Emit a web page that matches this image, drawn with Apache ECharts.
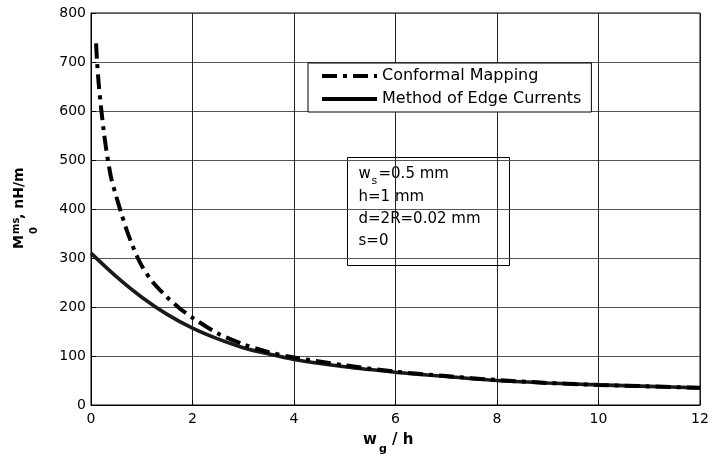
<!DOCTYPE html>
<html>
<head>
<meta charset="utf-8">
<script src="https://cdn.jsdelivr.net/npm/echarts@6/dist/echarts.min.js"></script>
<style>
html,body{margin:0;padding:0;background:#fff;}
#chart{width:712px;height:459px;}
</style>
</head>
<body>
<div id="chart"></div>
<script>
// ---- data ----
var xTicks = [0, 2, 4, 6, 8, 10, 12];
var yTicks = [0, 100, 200, 300, 400, 500, 600, 700, 800];

var seriesNames = ['Conformal Mapping', 'Method of Edge Currents'];

var xCM = [0.1, 0.12, 0.15, 0.2, 0.25, 0.3, 0.35, 0.4, 0.5, 0.6, 0.7, 0.8, 0.9, 1.0, 1.2, 1.5, 1.75, 2.0, 2.5, 3.0, 3.5, 4.0, 5, 6, 7, 8, 9, 10, 11, 12];
var yCM = [738, 700, 658, 605, 560, 522, 490, 462, 425, 390, 358, 330, 305, 284, 253, 220, 197, 178, 146, 124, 108, 97, 81, 68, 59, 51, 45, 41, 38, 35];

var xMEC = [0, 0.5, 1, 1.5, 2, 2.5, 3, 3.5, 4, 5, 6, 7, 8, 9, 10, 11, 12];
var yMEC = [310, 262, 220, 185, 157, 135, 117, 104, 93, 78, 67, 58, 50, 45, 41, 38, 35];

var noteLines = ['=0.5 mm', 'h=1 mm', 'd=2R=0.02 mm', 's=0'];

function pairs(xs, ys) {
  return xs.map(function (x, i) { return [x, ys[i]]; });
}

var FONT = 'DejaVu Sans';
var chart = echarts.init(document.getElementById('chart'), null, {renderer: 'canvas'});

var option = {
  animation: false,
  backgroundColor: '#fff',
  color: ['#000', '#1a1a1a'],
  grid: {
    left: 91, right: 12, top: 13, bottom: 54,
    show: true, borderColor: '#000', borderWidth: 1, backgroundColor: 'transparent'
  },
  xAxis: {
    type: 'value',
    min: xTicks[0], max: xTicks[xTicks.length - 1], interval: 2,
    axisLine: {show: true, onZero: false, lineStyle: {color: '#000', width: 1}},
    axisTick: {show: true, inside: true, length: 5, lineStyle: {color: '#000'}},
    axisLabel: {color: '#000', fontFamily: FONT, fontSize: 14, margin: 7},
    splitLine: {show: true, lineStyle: {color: '#222', width: 1}}
  },
  yAxis: {
    type: 'value',
    min: yTicks[0], max: yTicks[yTicks.length - 1], interval: 100,
    axisLine: {show: true, onZero: false, lineStyle: {color: '#000', width: 1}},
    axisTick: {show: true, inside: true, length: 5, lineStyle: {color: '#000'}},
    axisLabel: {color: '#000', fontFamily: FONT, fontSize: 14, margin: 5},
    splitLine: {show: true, lineStyle: {color: '#555', width: 1.2}}
  },
  legend: {
    orient: 'vertical',
    left: 308, top: 63,
    backgroundColor: '#fff',
    borderColor: '#000', borderWidth: 1,
    padding: [5, 10, 5, 12],
    itemGap: 7,
    itemWidth: 55, itemHeight: 14,
    itemStyle: {opacity: 0},
    lineStyle: {width: 4, color: '#000'},
    textStyle: {color: '#000', fontFamily: FONT, fontSize: 16},
    data: seriesNames
  },
  series: [
    {
      name: seriesNames[0],
      type: 'line',
      data: pairs(xCM, yCM),
      smooth: 0.3,
      symbol: 'none',
      z: 3,
      itemStyle: {color: '#000'},
      lineStyle: {color: '#000', width: 4, type: [15, 6, 4, 6], cap: 'butt'}
    },
    {
      name: seriesNames[1],
      type: 'line',
      data: pairs(xMEC, yMEC),
      smooth: 0.3,
      symbol: 'none',
      z: 2,
      itemStyle: {color: '#1a1a1a'},
      lineStyle: {color: '#1a1a1a', width: 3.6, type: 'solid'}
    }
  ],
  graphic: [
    // annotation box
    {
      type: 'group', left: 347, top: 157, z: 100,
      children: [
        {type: 'rect', shape: {x: 0, y: 0, width: 162, height: 108},
          style: {fill: '#fff', stroke: '#000', lineWidth: 1}},
        {type: 'text', x: 11, y: 17, style: {text: 'w', font: '15px "DejaVu Sans"', fill: '#000', verticalAlign: 'middle'}},
        {type: 'text', x: 24, y: 24, style: {text: 's', font: '11px "DejaVu Sans"', fill: '#000', verticalAlign: 'middle'}},
        {type: 'text', x: 31, y: 17, style: {text: noteLines[0], font: '15px "DejaVu Sans"', fill: '#000', verticalAlign: 'middle'}},
        {type: 'text', x: 11, y: 40, style: {text: noteLines[1], font: '15px "DejaVu Sans"', fill: '#000', verticalAlign: 'middle'}},
        {type: 'text', x: 11, y: 62, style: {text: noteLines[2], font: '15px "DejaVu Sans"', fill: '#000', verticalAlign: 'middle'}},
        {type: 'text', x: 11, y: 84, style: {text: noteLines[3], font: '15px "DejaVu Sans"', fill: '#000', verticalAlign: 'middle'}}
      ]
    },
    // x axis title
    {type: 'text', x: 363, y: 440.5, z: 100, style: {text: 'w', font: 'bold 15px "DejaVu Sans"', fill: '#000', verticalAlign: 'middle'}},
    {type: 'text', x: 379, y: 449, z: 100, style: {text: 'g', font: 'bold 11px "DejaVu Sans"', fill: '#000', verticalAlign: 'middle'}},
    {type: 'text', x: 392, y: 440.5, z: 100, style: {text: '/ h', font: 'bold 15px "DejaVu Sans"', fill: '#000', verticalAlign: 'middle'}},
    // y axis title (rotated)
    {
      type: 'group', x: 24, y: 249, rotation: Math.PI / 2, z: 100,
      children: [
        {type: 'text', x: 0, y: -4.9, style: {text: 'M', font: 'bold 14px "DejaVu Sans"', fill: '#000', verticalAlign: 'middle'}},
        {type: 'text', x: 15, y: -8, style: {text: 'ms', font: 'bold 10px "DejaVu Sans"', fill: '#000', verticalAlign: 'middle'}},
        {type: 'text', x: 15, y: 10.5, style: {text: '0', font: 'bold 10px "DejaVu Sans"', fill: '#000', verticalAlign: 'middle'}},
        {type: 'text', x: 30, y: -4.9, style: {text: ', nH/m', font: 'bold 14px "DejaVu Sans"', fill: '#000', verticalAlign: 'middle'}}
      ]
    }
  ]
};
chart.setOption(option);
</script>
</body>
</html>
